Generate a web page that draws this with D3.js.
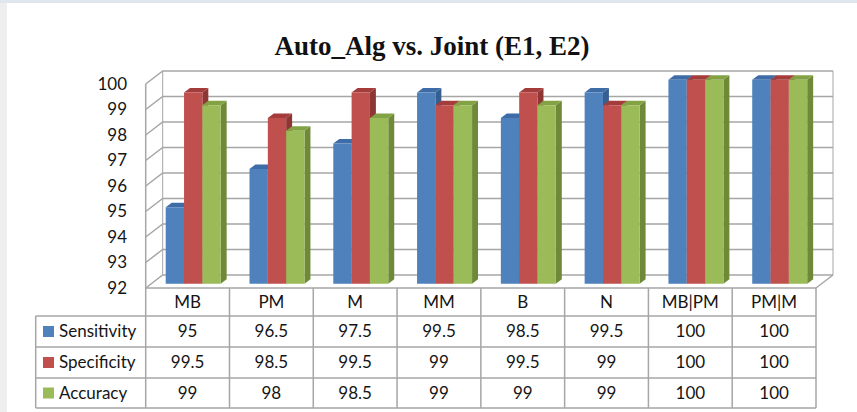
<!DOCTYPE html>
<html>
<head>
<meta charset="utf-8">
<script src="https://cdn.jsdelivr.net/npm/d3@7"></script>
<style>
  html, body { margin: 0; padding: 0; background: #ffffff; }
  svg { display: block; }
</style>
</head>
<body>
<svg id="chart" width="857" height="412"></svg>
<script>
// Chart data
const title = "Auto_Alg vs. Joint (E1, E2)";
const categories = ["MB", "PM", "M", "MM", "B", "N", "MB|PM", "PM|M"];
const seriesNames = ["Sensitivity", "Specificity", "Accuracy"];
const sensitivity = [95, 96.5, 97.5, 99.5, 98.5, 99.5, 100, 100];
const specificity = [99.5, 98.5, 99.5, 99, 99.5, 99, 100, 100];
const accuracy = [99, 98, 98.5, 99, 99, 99, 100, 100];
const yTicks = [92, 93, 94, 95, 96, 97, 98, 99, 100];

const seriesValues = [sensitivity, specificity, accuracy];
const colors = [
  { front: "#4f81bd", top: "#3d6ca6", side: "#365f91" },
  { front: "#c0504d", top: "#a33c3a", side: "#8e3633" },
  { front: "#9bbb59", top: "#82a244", side: "#6e8a38" }
];

const svg = d3.select("#chart");
const W = 857, H = 412;

// page frame
svg.append("rect").attr("x", 0).attr("y", 0).attr("width", W).attr("height", H).attr("fill", "#ffffff");
svg.append("rect").attr("x", 0).attr("y", 0).attr("width", 7).attr("height", H).attr("fill", "#eeeeee");
svg.append("rect").attr("x", 0).attr("y", 0).attr("width", W).attr("height", 3).attr("fill", "#dfe6ee");

// plot geometry (oblique 3D projection)
const xLeft = 145.7, xRight = 816;
const DX = 17, DY = -13;              // offset of the back wall relative to the front
const x = d3.scaleBand().domain(categories).range([xLeft, xRight]).padding(0);
const y = d3.scaleLinear().domain([92, 100]).range([288, 84]);
const groupW = 55;
const xs = d3.scaleBand().domain(seriesNames).range([-groupW / 2, groupW / 2]).padding(0);
const zFront = 0.33, zBack = 0.68;
const gridColor = "#a6a6a6";

const P = (px, py, z) => [px + z * DX, py + z * DY];
const poly = pts => pts.map(p => p.join(",")).join(" ");

// walls and gridlines
const grid = svg.append("g").attr("fill", "none").attr("stroke", gridColor).attr("stroke-width", 1.5);
yTicks.forEach(t => {
  const a = P(xLeft, y(t), 0), b = P(xLeft, y(t), 1), c = P(xRight, y(t), 1);
  grid.append("polyline").attr("points", poly([a, b, c]));
});
// left wall front edge, back wall edges
grid.append("line").attr("x1", xLeft).attr("y1", y(92)).attr("x2", xLeft).attr("y2", y(100));
grid.append("line").attr("x1", P(xLeft, 0, 1)[0]).attr("y1", P(0, y(92), 1)[1])
  .attr("x2", P(xLeft, 0, 1)[0]).attr("y2", P(0, y(100), 1)[1]).attr("stroke-width", 1);
grid.append("line").attr("x1", P(xRight, 0, 1)[0]).attr("y1", P(0, y(92), 1)[1])
  .attr("x2", P(xRight, 0, 1)[0]).attr("y2", P(0, y(100), 1)[1]).attr("stroke-width", 1);
// floor right edge
grid.append("polyline").attr("points", poly([P(xRight, y(92), 0), P(xRight, y(92), 1)]));

const font = "Lato, 'Noto Sans', sans-serif";
const textColor = "#151515";

// y axis labels
svg.append("g").selectAll("text").data(yTicks).join("text")
  .attr("x", 127).attr("y", d => y(d)).attr("dy", "0.35em")
  .attr("text-anchor", "end")
  .attr("font-family", font).attr("font-size", 17)
  .attr("fill", textColor).text(d => d);

// bars
const bars = svg.append("g");
categories.forEach((cat, ci) => {
  seriesNames.forEach((s, si) => {
    const v = seriesValues[si][ci];
    const x0 = x(cat) + x.bandwidth() / 2 + xs(s);
    const x1 = x0 + xs.bandwidth();
    const yb = y(92), yt = y(v);
    const col = colors[si];
    const g = bars.append("g");
    // right side face
    g.append("polygon").attr("fill", col.side)
      .attr("points", poly([P(x1, yt, zFront), P(x1, yt, zBack), P(x1, yb, zBack), P(x1, yb, zFront)]));
    // top face
    g.append("polygon").attr("fill", col.top)
      .attr("points", poly([P(x0, yt, zFront), P(x0, yt, zBack), P(x1, yt, zBack), P(x1, yt, zFront)]));
    // front face
    g.append("polygon").attr("fill", col.front)
      .attr("points", poly([P(x0, yt, zFront), P(x1, yt, zFront), P(x1, yb, zFront), P(x0, yb, zFront)]));
  });
});

// title
svg.append("text").attr("x", 432).attr("y", 55).attr("text-anchor", "middle")
  .attr("font-family", "'Liberation Serif', 'Times New Roman', serif")
  .attr("font-weight", "bold").attr("font-size", 27).attr("fill", "#111").text(title);

// data table
const rowY = [288, 316, 347, 378, 408];
const legendLeft = 35.7;
const table = svg.append("g").attr("stroke", gridColor).attr("stroke-width", 1.5).attr("fill", "none");
table.append("line").attr("x1", xLeft).attr("x2", xRight).attr("y1", rowY[0]).attr("y2", rowY[0]);
rowY.slice(1).forEach(ry => {
  table.append("line").attr("x1", legendLeft).attr("x2", xRight).attr("y1", ry).attr("y2", ry);
});
table.append("line").attr("x1", legendLeft).attr("x2", legendLeft).attr("y1", rowY[1]).attr("y2", rowY[4]);
categories.forEach(c => {
  table.append("line").attr("x1", x(c)).attr("x2", x(c)).attr("y1", rowY[0]).attr("y2", rowY[4]);
});
table.append("line").attr("x1", xRight).attr("x2", xRight).attr("y1", rowY[0]).attr("y2", rowY[4]);

svg.append("g").selectAll("text").data(categories).join("text")
  .attr("x", d => x(d) + x.bandwidth() / 2).attr("y", (rowY[0] + rowY[1]) / 2).attr("dy", "0.35em")
  .attr("text-anchor", "middle").attr("font-family", font).attr("font-size", 17).attr("fill", textColor)
  .text(d => d);

seriesNames.forEach((s, si) => {
  const cy = (rowY[si + 1] + rowY[si + 2]) / 2;
  svg.append("rect").attr("x", 43).attr("y", cy - 5.5).attr("width", 11).attr("height", 11)
    .attr("fill", colors[si].front);
  svg.append("text").attr("x", 59).attr("y", cy).attr("dy", "0.35em")
    .attr("font-family", font).attr("font-size", 17).attr("fill", textColor).text(s);
  svg.append("g").selectAll("text").data(seriesValues[si]).join("text")
    .attr("x", (d, i) => x(categories[i]) + x.bandwidth() / 2).attr("y", cy).attr("dy", "0.35em")
    .attr("text-anchor", "middle").attr("font-family", font).attr("font-size", 17).attr("fill", textColor)
    .text(d => d);
});
</script>
</body>
</html>
